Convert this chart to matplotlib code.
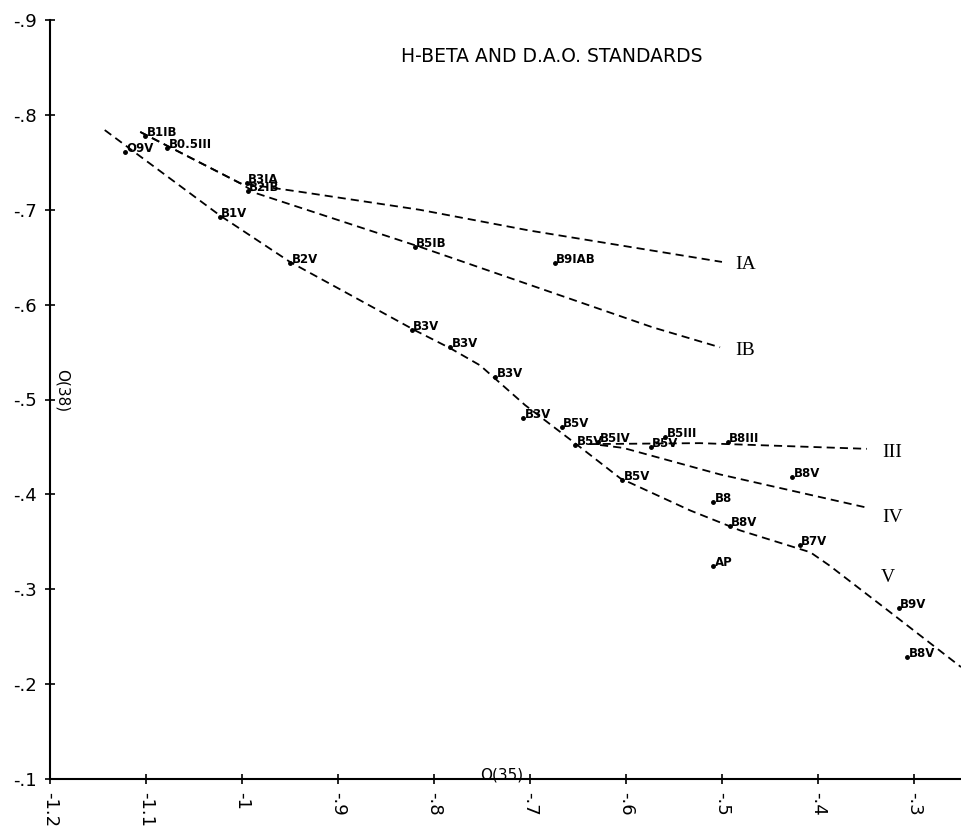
import matplotlib.pyplot as plt

# standards: spectral type, O(35), O(38)
stars = ['B1IB', 'B0.5III', 'O9V', 'B3IA', 'B2IB', 'B1V', 'B2V', 'B5IB', 'B9IAB',
         'B3V', 'B3V', 'B3V', 'B3V', 'B5V', 'B5V', 'B5IV', 'B5V', 'B5III', 'B8III',
         'B8V', 'B8', 'B5V', 'B8V', 'B7V', 'AP', 'B9V', 'B8V']
o35 = [-1.101, -1.078, -1.122, -0.995, -0.994, -1.023, -0.950, -0.820, -0.674,
       -0.823, -0.783, -0.736, -0.707, -0.667, -0.653, -0.629, -0.574, -0.559, -0.494,
       -0.427, -0.509, -0.604, -0.492, -0.419, -0.509, -0.316, -0.307]
o38 = [-0.778, -0.765, -0.761, -0.728, -0.720, -0.692, -0.644, -0.661, -0.644,
       -0.573, -0.555, -0.524, -0.481, -0.471, -0.452, -0.455, -0.450, -0.460, -0.455,
       -0.418, -0.392, -0.415, -0.367, -0.347, -0.324, -0.280, -0.229]

# luminosity class sequences
ia_x = [-1.106, -1.002, -0.940, -0.815, -0.700, -0.500]
ia_y = [-0.782, -0.728, -0.719, -0.700, -0.678, -0.645]
ib_x = [-1.106, -1.002, -0.984, -0.815, -0.572, -0.502]
ib_y = [-0.782, -0.728, -0.717, -0.661, -0.576, -0.555]
iii_x = [-0.638, -0.523, -0.349]
iii_y = [-0.453, -0.454, -0.448]
iv_x = [-0.627, -0.603, -0.502, -0.349]
iv_y = [-0.452, -0.449, -0.421, -0.386]
v_x = [-1.143, -1.023, -0.950, -0.820, -0.783, -0.752, -0.705, -0.648, -0.606,
       -0.533, -0.481, -0.408, -0.388, -0.325, -0.251]
v_y = [-0.784, -0.694, -0.645, -0.573, -0.554, -0.536, -0.494, -0.450, -0.417,
       -0.383, -0.362, -0.339, -0.325, -0.276, -0.218]
classes = ['IA', 'IB', 'III', 'IV', 'V']
class_x = [-0.486, -0.486, -0.333, -0.333, -0.335]
class_y = [-0.642, -0.552, -0.444, -0.376, -0.312]

xticks = [-1.2, -1.1, -1.0, -0.9, -0.8, -0.7, -0.6, -0.5, -0.4, -0.3]
xlabels = ['-1.2', '-1.1', '-1', '-.9', '-.8', '-.7', '-.6', '-.5', '-.4', '-.3']
yticks = [-0.9, -0.8, -0.7, -0.6, -0.5, -0.4, -0.3, -0.2, -0.1]
ylabels = ['-.9', '-.8', '-.7', '-.6', '-.5', '-.4', '-.3', '-.2', '-.1']

fig = plt.figure(figsize=(9.61, 8.33), dpi=100)
ax = fig.add_axes([50/961, 54/833, 911/961, 759/833])
ax.set_xlim(-1.2, -0.251)
ax.set_ylim(-0.1, -0.9)

dash = (0, (4.5, 2.8))
for lx, ly in [(ia_x, ia_y), (ib_x, ib_y), (iii_x, iii_y), (iv_x, iv_y), (v_x, v_y)]:
    ax.plot(lx, ly, color='black', lw=1.3, linestyle=dash)

ax.plot(o35, o38, 'o', color='black', ms=2.5)
for s, x, y in zip(stars, o35, o38):
    ax.annotate(s, (x, y), xytext=(1, 0), textcoords='offset points',
                fontsize=8.5, fontweight='bold', va='baseline', ha='left')

for c, x, y in zip(classes, class_x, class_y):
    ax.text(x, y, c, family='Liberation Serif', fontsize=14, va='center', ha='left')

for side in ['top', 'right']:
    ax.spines[side].set_visible(False)
ax.spines['left'].set_linewidth(1.5)
ax.spines['bottom'].set_linewidth(1.5)

ax.set_xticks(xticks)
ax.set_xticklabels(xlabels, rotation=-90, fontsize=13)
ax.set_yticks(yticks)
ax.set_yticklabels(ylabels, fontsize=13)
ax.tick_params(direction='inout', length=7, width=1.2, pad=6)

fig.text(62/961, 1 - 391/833, 'O(38)', rotation=-90, fontsize=11, ha='center', va='center')
fig.text(502/961, 1 - 775/833, 'O(35)', fontsize=11, ha='center', va='center')
fig.text(552/961, 1 - 57/833, 'H-BETA AND D.A.O. STANDARDS', fontsize=13.5, ha='center', va='center')

fig.savefig('out.png', dpi=100)
